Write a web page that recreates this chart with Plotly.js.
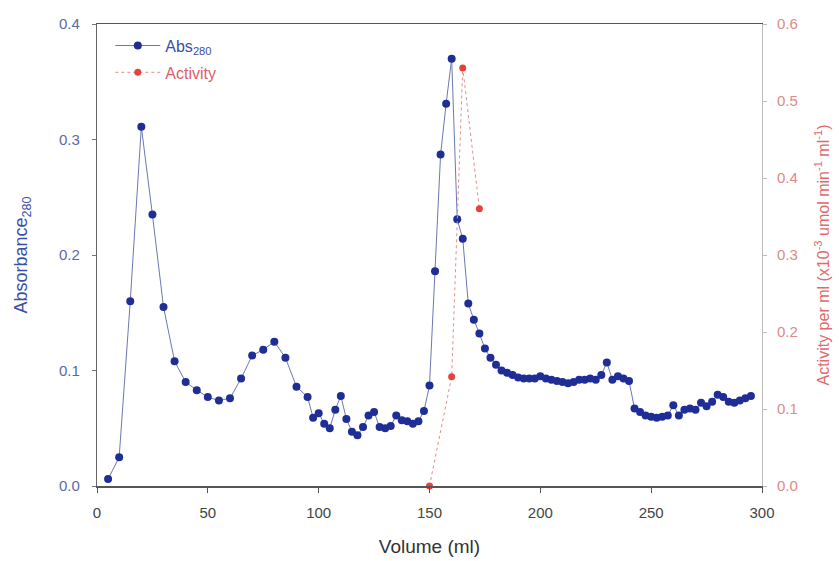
<!DOCTYPE html>
<html>
<head>
<meta charset="utf-8">
<script src="https://cdn.plot.ly/plotly-3.0.1.min.js"></script>
<style>html,body{margin:0;padding:0;background:#fff;}#chart{width:839px;height:561px;}</style>
</head>
<body>
<div id="chart"></div>
<script>
// Absorbance at 280 nm (left axis)
const absVolume = [5,10,15,20,25,30,35,40,45,50,55,60,65,70,75,80,85,90,
  95,97.5,100,102.5,105,107.5,110,112.5,115,117.5,120,122.5,125,127.5,130,132.5,135,137.5,140,142.5,145,147.5,
  150,152.5,155,157.5,160,162.5,165,167.5,170,172.5,175,177.5,180,182.5,185,187.5,190,192.5,195,197.5,
  200,202.5,205,207.5,210,212.5,215,217.5,220,222.5,225,227.5,230,232.5,235,237.5,240,242.5,245,247.5,
  250,252.5,255,257.5,260,262.5,265,267.5,270,272.5,275,277.5,280,282.5,285,287.5,290,292.5,295];
const absValues = [0.006,0.025,0.160,0.311,0.235,0.155,0.108,0.090,0.083,0.077,0.074,0.076,0.093,0.113,0.118,0.125,0.111,0.086,
  0.077,0.059,0.063,0.054,0.050,0.066,0.078,0.058,0.047,0.044,0.051,0.061,0.064,0.051,0.050,0.052,0.061,0.057,0.056,0.054,0.056,0.065,
  0.087,0.186,0.287,0.331,0.370,0.231,0.214,0.158,0.144,0.132,0.119,0.111,0.105,0.100,0.098,0.096,0.094,0.093,0.093,0.093,
  0.095,0.093,0.092,0.091,0.090,0.089,0.090,0.092,0.092,0.093,0.092,0.096,0.107,0.092,0.095,0.093,0.091,0.067,0.064,0.061,
  0.060,0.059,0.060,0.061,0.070,0.061,0.066,0.067,0.066,0.072,0.069,0.073,0.079,0.077,0.073,0.072,0.074,0.076,0.078];

// Activity per ml (right axis)
const actVolume = [150,160,165,172.5];
const actValues = [0.0,0.142,0.543,0.360];

const xTicks = [0,50,100,150,200,250,300];

const font = "Liberation Sans, Arial, sans-serif";

const traces = [
  {
    x: absVolume, y: absValues, type: 'scatter', mode: 'lines+markers',
    name: '<span style="color:#3b4ea8">Abs<sub>280</sub></span>',
    legendgroup: 'a',
    line: {color: '#6c78b0', width: 1},
    marker: {color: '#1f2d96', size: 8},
    cliponaxis: false
  },
  {
    x: actVolume, y: actValues, type: 'scatter', mode: 'lines+markers', yaxis: 'y2',
    name: '<span style="color:#e0606a">Activity</span>',
    legendgroup: 'b',
    line: {color: '#e88a8a', width: 1, dash: 'dot'},
    marker: {color: '#e8413a', size: 7},
    cliponaxis: false
  }
];

const layout = {
  width: 839, height: 561,
  margin: {l: 97, r: 77, t: 24, b: 75},
  paper_bgcolor: '#fff', plot_bgcolor: '#fff',
  font: {family: font, size: 13, color: '#444'},
  showlegend: true,
  legend: {x: 0.02, y: 0.99, xanchor: 'left', yanchor: 'top', bgcolor: 'rgba(0,0,0,0)',
           font: {family: font, size: 16}, traceorder: 'grouped', tracegroupgap: 3, itemwidth: 45},
  xaxis: {
    range: [0, 300], tickvals: xTicks, ticks: 'outside', ticklen: 5, tickcolor: '#555',
    showline: true, linecolor: '#555', linewidth: 1.5, mirror: true,
    showgrid: false, zeroline: false, ticklabelstandoff: 7,
    tickfont: {family: font, size: 15, color: '#444'},
    title: {text: 'Volume (ml)', font: {family: font, size: 19, color: '#333'}, standoff: 20}
  },
  yaxis: {
    range: [0, 0.4], dtick: 0.1, tickformat: '.1f', ticks: 'outside', ticklen: 4, tickcolor: '#777',
    showline: true, linecolor: '#666', linewidth: 1.2,
    showgrid: false, zeroline: false, ticklabelstandoff: 9,
    tickfont: {family: font, size: 15, color: '#5a6aa8'},
    title: {text: 'Absorbance<sub>280</sub>', font: {family: font, size: 18, color: '#3b4ea8'}, standoff: 26}
  },
  yaxis2: {
    overlaying: 'y', side: 'right',
    range: [0, 0.6], dtick: 0.1, tickformat: '.1f', ticks: 'outside', ticklen: 4, tickcolor: '#bbb',
    showline: true, linecolor: '#bbb', linewidth: 1,
    showgrid: false, zeroline: false, ticklabelstandoff: 7,
    tickfont: {family: font, size: 15, color: '#e08a8a'},
    title: {text: 'Activity per ml (x10<sup>-3</sup> umol min<sup>-1</sup> ml<sup>-1</sup>)',
            font: {family: font, size: 16, color: '#e06a6a'}, standoff: 20}
  }
};

Plotly.newPlot('chart', traces, layout, {displayModeBar: false, staticPlot: true});
</script>
</body>
</html>
